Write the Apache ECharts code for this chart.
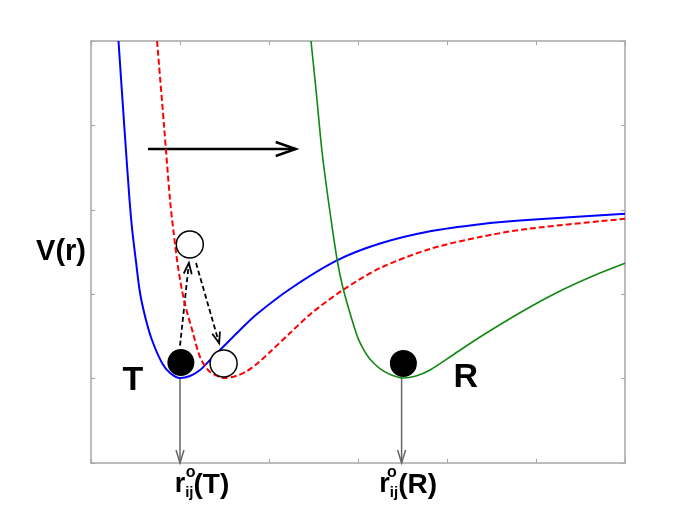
<!DOCTYPE html>
<html>
<head>
<meta charset="utf-8">
<title>Potential curves</title>
<script src="https://cdn.jsdelivr.net/npm/echarts@6/dist/echarts.min.js"></script>
<style>
  html, body { margin: 0; padding: 0; background: #fff; }
  #chart { width: 692px; height: 520px; }
</style>
</head>
<body>
<div id="chart"></div>
<script>
// curve points: [r, V]
const bluePts = [
  [0.309, 5.00], [0.373, 4.005], [0.433, 3.116], [0.463, 2.761], [0.506, 2.382],
  [0.551, 2.014], [0.612, 1.718], [0.685, 1.457], [0.798, 1.185], [0.888, 1.066],
  [1.000, 1.007], [1.112, 1.031], [1.225, 1.102], [1.348, 1.232], [1.483, 1.374],
  [1.674, 1.576], [1.865, 1.765], [2.236, 2.062], [2.764, 2.400], [3.247, 2.600],
  [3.809, 2.745], [4.371, 2.830], [4.899, 2.880], [6.000, 2.952]
]
const redPts = [
  [0.742, 5.00], [0.820, 4.005], [0.888, 3.116], [0.925, 2.761], [0.978, 2.322],
  [1.045, 1.931], [1.146, 1.540], [1.225, 1.256], [1.315, 1.102], [1.393, 1.043],
  [1.494, 1.007], [1.629, 1.031], [1.753, 1.090], [1.876, 1.185], [2.011, 1.315],
  [2.236, 1.540], [2.494, 1.789], [2.831, 2.050], [3.247, 2.310], [3.809, 2.536],
  [4.371, 2.678], [4.899, 2.773], [6.000, 2.893]
]
const greenPts = [
  [2.472, 5.00], [2.534, 4.360], [2.590, 3.744], [2.640, 3.318], [2.685, 2.974],
  [2.764, 2.417], [2.831, 2.073], [2.933, 1.694], [3.000, 1.480], [3.060, 1.350],
  [3.120, 1.250], [3.190, 1.170], [3.270, 1.100], [3.370, 1.045], [3.506, 1.007],
  [3.652, 1.031], [3.809, 1.102], [4.067, 1.280], [4.371, 1.493], [4.854, 1.801],
  [5.270, 2.038], [5.640, 2.216], [6.000, 2.366]
]

// particles
const filledDots = [[1.01, 1.19], [3.51, 1.18]]
const openDots = [[1.11, 2.59], [1.49, 1.18]]

// arrows: [r1, V1, r2, V2]
const shiftArrow = [[0.64, 3.72, 2.30, 3.72]]
const hopArrows = [[1.00, 1.39, 1.10, 2.37], [1.18, 2.37, 1.44, 1.42]]
const dropArrows = [[1.00, 1.00, 1.00, 0], [3.49, 1.00, 3.49, 0]]

// text: [label, r, V]
const stateLabels = [['T', 0.47, 0.98], ['R', 4.21, 1.01]]
const radiusLabels = [['T', 0.94, -0.26], ['R', 3.24, -0.26]]
const radiusSup = [[1.12, -0.11], [3.38, -0.11]]

const font = 'Liberation Sans, Arial, sans-serif'
const axisGray = '#a6a6a6'

const chart = echarts.init(document.getElementById('chart'))

const arrowRenderer = (head, half, lineStyle) => (params, api) => {
  const a = api.coord([api.value(0), api.value(1)])
  const b = api.coord([api.value(2), api.value(3)])
  const ang = Math.atan2(b[1] - a[1], b[0] - a[0])
  const ux = Math.cos(ang), uy = Math.sin(ang)
  const bx = b[0] - ux * head, by = b[1] - uy * head
  return {
    type: 'group',
    children: [
      {
        type: 'line',
        shape: { x1: a[0], y1: a[1], x2: b[0], y2: b[1] },
        style: Object.assign({ fill: null }, lineStyle)
      },
      {
        type: 'polyline',
        shape: { points: [[bx - uy * half, by + ux * half], b, [bx + uy * half, by - ux * half]] },
        style: { fill: null, stroke: lineStyle.stroke, lineWidth: lineStyle.lineWidth }
      }
    ]
  }
}

const axisBase = {
  type: 'value',
  axisLine: { show: true, onZero: false, lineStyle: { color: axisGray, width: 1.5 } },
  axisTick: { show: true, inside: true, length: 4, lineStyle: { color: axisGray } },
  axisLabel: { show: false },
  splitLine: { show: false }
}

const labelSeries = {
  type: 'scatter', symbolSize: 0, clip: false, silent: true, z: 6,
  itemStyle: { opacity: 1 }
}

const option = {
  animation: false,
  grid: { left: 91, top: 41, right: 67, bottom: 57 },
  xAxis: [
    Object.assign({}, axisBase, { min: 0, max: 6, interval: 1, position: 'bottom' }),
    Object.assign({}, axisBase, { min: 0, max: 6, interval: 1, position: 'top' })
  ],
  yAxis: [
    Object.assign({}, axisBase, {
      min: 0, max: 5, interval: 1, position: 'left',
      name: 'V(r)', nameLocation: 'middle', nameRotate: 0, nameGap: 5,
      nameTextStyle: { color: '#000', fontSize: 29, fontWeight: 'bold', fontFamily: font }
    }),
    Object.assign({}, axisBase, { min: 0, max: 5, interval: 1, position: 'right' })
  ],
  series: [
    {
      name: 'T', type: 'line', data: bluePts, smooth: 0.3, showSymbol: false,
      lineStyle: { color: '#0000ff', width: 2 }
    },
    {
      name: 'excited', type: 'line', data: redPts, smooth: 0.3, showSymbol: false,
      lineStyle: { color: '#ff0000', width: 2, type: [6, 3] }
    },
    {
      name: 'R', type: 'line', data: greenPts, smooth: 0.3, showSymbol: false,
      lineStyle: { color: '#118811', width: 1.6 }
    },
    {
      type: 'custom', clip: false, data: dropArrows,
      renderItem: arrowRenderer(13, 4, { stroke: '#666', lineWidth: 1.5 })
    },
    {
      type: 'custom', clip: false, data: shiftArrow,
      renderItem: arrowRenderer(20, 7, { stroke: '#000', lineWidth: 2.5 })
    },
    {
      type: 'custom', clip: false, data: hopArrows,
      renderItem: arrowRenderer(11, 4, { stroke: '#000', lineWidth: 1.8, lineDash: [5, 3] })
    },
    {
      type: 'scatter', data: filledDots, symbolSize: 27, z: 5,
      itemStyle: { color: '#000', opacity: 1 }
    },
    {
      type: 'scatter', data: openDots, symbolSize: 27, z: 5,
      itemStyle: { color: '#fff', borderColor: '#000', borderWidth: 1.5, opacity: 1 }
    },
    Object.assign({}, labelSeries, {
      data: stateLabels.map(d => ({ name: d[0], value: [d[1], d[2]] })),
      label: {
        show: true, position: 'inside', formatter: '{b}',
        color: '#000', fontSize: 34, fontWeight: 'bold', fontFamily: font
      }
    }),
    Object.assign({}, labelSeries, {
      data: radiusLabels.map(d => ({ name: d[0], value: [d[1], d[2]] })),
      label: {
        show: true, position: 'inside', align: 'left',
        formatter: p => '{r|r}{s|ij}{p|(' + p.name + ')}',
        rich: {
          r: { fontSize: 27, fontWeight: 'bold', fontFamily: font, color: '#000', lineHeight: 30 },
          s: { fontSize: 15, fontWeight: 'bold', fontFamily: font, color: '#000', lineHeight: 30, verticalAlign: 'bottom' },
          p: { fontSize: 28, fontWeight: 'bold', fontFamily: font, color: '#000', lineHeight: 30 }
        }
      }
    }),
    Object.assign({}, labelSeries, {
      data: radiusSup.map(d => ({ name: 'o', value: d })),
      label: {
        show: true, position: 'inside', formatter: '{b}',
        color: '#000', fontSize: 16, fontWeight: 'bold', fontFamily: font
      }
    })
  ]
}

chart.setOption(option)
</script>
</body>
</html>
